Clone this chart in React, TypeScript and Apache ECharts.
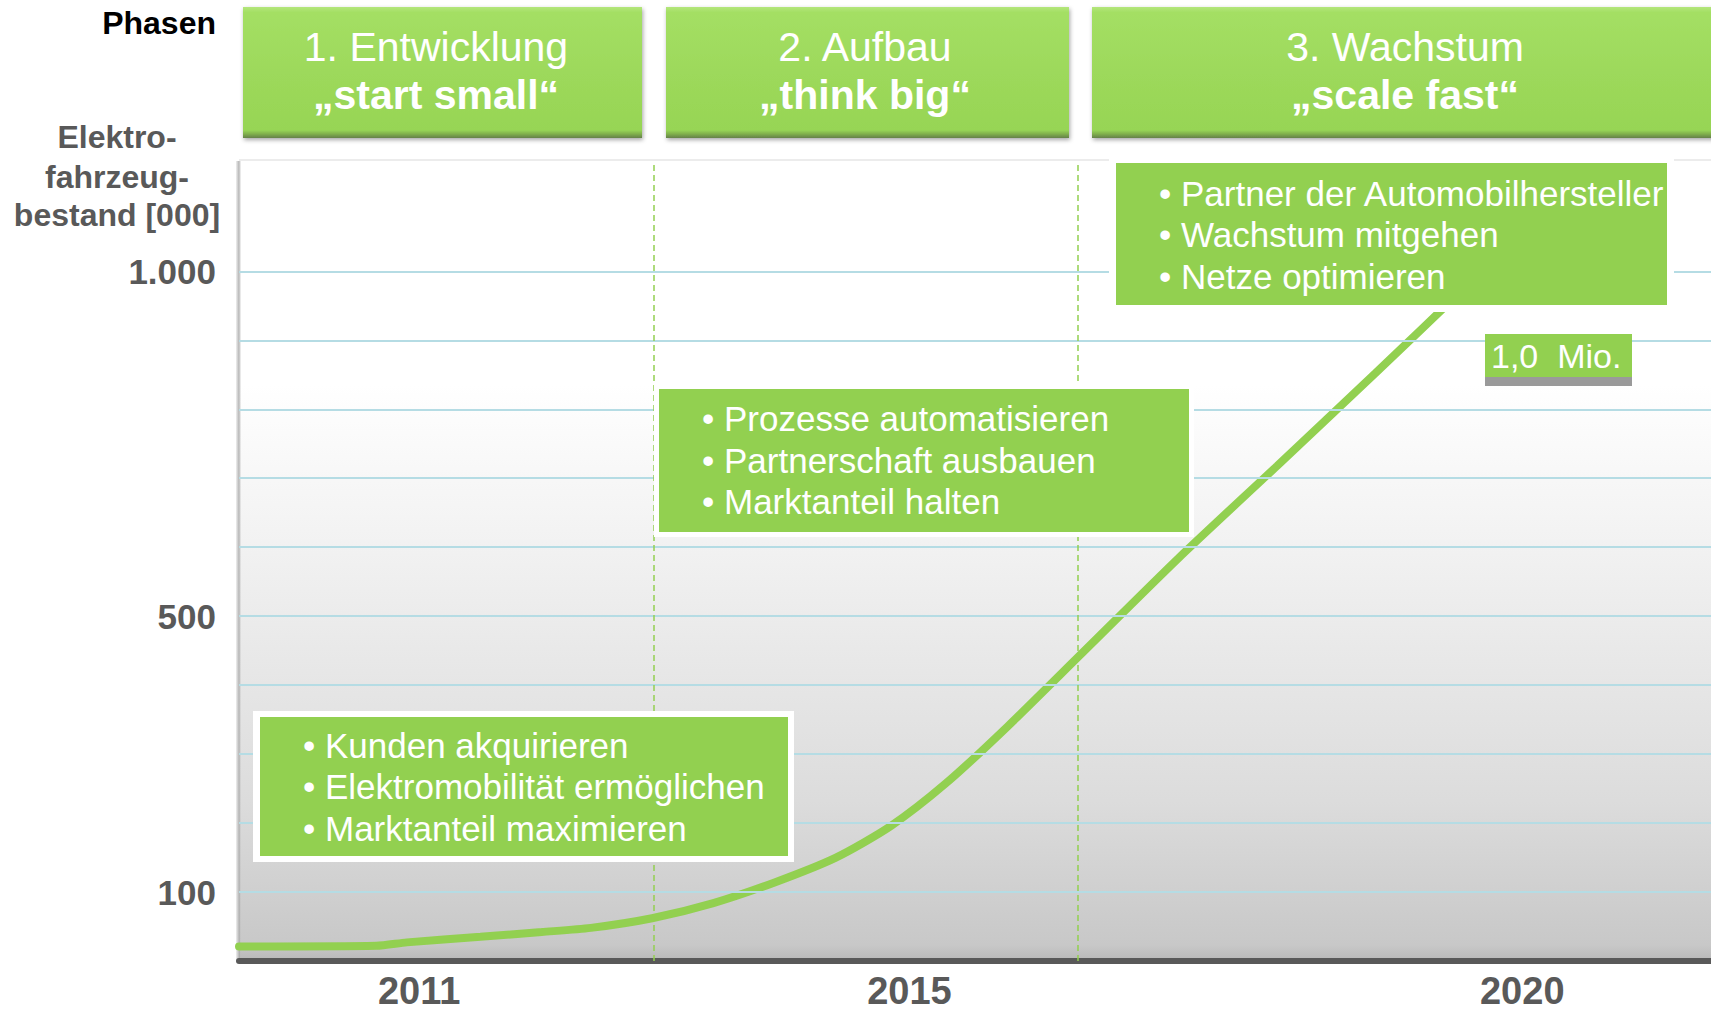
import React, { useEffect, useRef } from "react";
import * as echarts from "echarts";

// ---- data ----
const years = [2009.53, 2010.65, 2010.9, 2011.5, 2012.0, 2012.4, 2012.9, 2013.4, 2013.9, 2014.4, 2014.85, 2015.3, 2015.8, 2016.4, 2017.2, 2018.0, 2018.8, 2019.6];
const stock = [21, 22, 27, 35, 42, 48, 62, 84, 114, 150, 196, 258, 340, 445, 585, 718, 852, 988];
const xTickLabels = [2011, 2015, 2020];
const yTickLabels = [100, 500, 1000];
const gridValues = [100, 200, 300, 400, 500, 600, 700, 800, 900, 1000];
const phaseBoundaries = [2012.91, 2016.37];
const phaseNames = ["1. Entwicklung", "2. Aufbau", "3. Wachstum"];
const phaseMottos = ["„start small“", "„think big“", "„scale fast“"];
const phaseBullets = [
  ["Kunden akquirieren", "Elektromobilität ermöglichen", "Marktanteil maximieren"],
  ["Prozesse automatisieren", "Partnerschaft ausbauen", "Marktanteil halten"],
  ["Partner der Automobilhersteller", "Wachstum mitgehen", "Netze optimieren"],
];
const targetLabel = "1,0  Mio.";
const yAxisTitle = ["Elektro-", "fahrzeug-", "bestand [000]"];
const phaseHeader = "Phasen";

// ---- layout ----
const FONT = "'Liberation Sans', Arial, Helvetica, sans-serif";
const GRID = { left: 239, top: 161, width: 1472, height: 800 };
const headerBoxes = [
  { x: 243, w: 399, cx: 436 },
  { x: 666, w: 403, cx: 865 },
  { x: 1092, w: 626, cx: 1405 },
];
const bulletBoxes = [
  { ox: 253, oy: 711, ow: 541, oh: 151, ix: 260, iy: 717, iw: 528, ih: 139, tx: 303, ly: [745, 786, 828] },
  { ox: 654, oy: 385, ow: 540, oh: 152, ix: 659, iy: 389, iw: 530, ih: 143, tx: 702, ly: [418, 460, 501] },
  { ox: 1109, oy: 156, ow: 565, oh: 156, ix: 1116, iy: 163, iw: 551, ih: 142, tx: 1159, ly: [193, 234, 276] },
];

const fmtDe = (v: number) => String(v).replace(/\B(?=(\d{3})+(?!\d))/g, ".");

export default function App() {
  const ref = useRef<HTMLDivElement>(null);
  useEffect(() => {
    document.body.style.margin = "0";
    const chart = echarts.init(ref.current!, null, { renderer: "svg" });

    const graphics: any[] = [];
    // plot background
    graphics.push({
      type: "rect",
      z: -10,
      silent: true,
      shape: { x: GRID.left, y: GRID.top, width: GRID.width, height: GRID.height },
      style: {
        fill: new echarts.graphic.LinearGradient(0, 0, 0, 1, [
          { offset: 0, color: "#ffffff" },
          { offset: 0.28, color: "#ffffff" },
          { offset: 0.55, color: "#ededed" },
          { offset: 0.8, color: "#dcdcdc" },
          { offset: 0.98, color: "#c8c8c8" },
          { offset: 1, color: "#b8b8b8" },
        ]),
      },
    });
    graphics.push({
      type: "rect",
      z: -9,
      silent: true,
      shape: { x: GRID.left - 3, y: GRID.top, width: 5, height: GRID.height },
      style: {
        fill: new echarts.graphic.LinearGradient(0, 0, 1, 0, [
          { offset: 0, color: "rgba(150,150,150,0.15)" },
          { offset: 0.6, color: "rgba(150,150,150,0.7)" },
          { offset: 1, color: "rgba(200,200,200,0.2)" },
        ]),
      },
    });
    graphics.push({
      type: "line",
      z: -9,
      silent: true,
      shape: { x1: GRID.left, y1: GRID.top - 1, x2: GRID.left + GRID.width, y2: GRID.top - 1 },
      style: { stroke: "#ececec", lineWidth: 2 },
    });

    // "Phasen"
    graphics.push({
      type: "text",
      z: 20,
      style: { text: phaseHeader, x: 216, y: 23, align: "right", verticalAlign: "middle", font: `bold 32px ${FONT}`, fill: "#000000" },
    });
    // y axis title
    const titleY = [137, 177, 215];
    yAxisTitle.forEach((t, i) => {
      graphics.push({
        type: "text",
        z: 20,
        style: { text: t, x: 117, y: titleY[i], align: "center", verticalAlign: "middle", font: `bold 32px ${FONT}`, fill: "#595959" },
      });
    });

    // phase header boxes
    headerBoxes.forEach((b, i) => {
      graphics.push({
        type: "rect",
        z: 20,
        silent: true,
        shape: { x: b.x, y: 7, width: b.w, height: 131 },
        style: {
          fill: new echarts.graphic.LinearGradient(0, 0, 0, 1, [
            { offset: 0, color: "#b4e67c" },
            { offset: 0.04, color: "#a4df64" },
            { offset: 0.5, color: "#9dd95b" },
            { offset: 0.94, color: "#97d555" },
            { offset: 0.97, color: "#7fae4c" },
            { offset: 1, color: "#64804a" },
          ]),
          shadowBlur: 4,
          shadowColor: "rgba(0,0,0,0.35)",
          shadowOffsetX: 1,
          shadowOffsetY: 2,
        },
      });
      graphics.push({
        type: "text",
        z: 21,
        style: { text: phaseNames[i], x: b.cx, y: 47, align: "center", verticalAlign: "middle", font: `41px ${FONT}`, fill: "#ffffff" },
      });
      graphics.push({
        type: "text",
        z: 21,
        style: { text: phaseMottos[i], x: b.cx, y: 95, align: "center", verticalAlign: "middle", font: `bold 41px ${FONT}`, fill: "#ffffff" },
      });
    });

    // bullet boxes
    bulletBoxes.forEach((b, i) => {
      graphics.push({
        type: "rect",
        z: 20,
        silent: true,
        shape: { x: b.ox, y: b.oy, width: b.ow, height: b.oh },
        style: { fill: "#ffffff" },
      });
      graphics.push({
        type: "rect",
        z: 21,
        silent: true,
        shape: { x: b.ix, y: b.iy, width: b.iw, height: b.ih },
        style: { fill: "#92d050" },
      });
      phaseBullets[i].forEach((t, j) => {
        graphics.push({
          type: "text",
          z: 22,
          style: { text: "• " + t, x: b.tx, y: b.ly[j], align: "left", verticalAlign: "middle", font: `35px ${FONT}`, fill: "#ffffff" },
        });
      });
    });

    // 1,0 Mio. label
    graphics.push({
      type: "rect",
      z: 20,
      silent: true,
      shape: { x: 1485, y: 377, width: 147, height: 9 },
      style: { fill: "#9a9a9a" },
    });
    graphics.push({
      type: "rect",
      z: 21,
      silent: true,
      shape: { x: 1485, y: 334, width: 147, height: 43 },
      style: { fill: "#92d050" },
    });
    graphics.push({
      type: "text",
      z: 22,
      style: { text: targetLabel, x: 1491, y: 356, align: "left", verticalAlign: "middle", font: `34px ${FONT}`, fill: "#ffffff" },
    });

    const option: any = {
      animation: false,
      backgroundColor: "#ffffff",
      grid: { left: GRID.left, top: GRID.top, width: GRID.width, height: GRID.height, containLabel: false },
      xAxis: {
        type: "value",
        min: 2009.53,
        max: 2021.54,
        axisLine: { show: true, lineStyle: { color: "#595959", width: 6 } },
        axisTick: { show: false },
        splitLine: { show: false },
        axisLabel: {
          customValues: xTickLabels,
          formatter: (v: number) => String(v),
          fontFamily: FONT,
          fontSize: 38,
          fontWeight: "bold",
          color: "#595959",
          margin: 11,
          lineHeight: 38,
        },
      },
      yAxis: {
        type: "value",
        min: 0,
        max: 1160,
        axisLine: { show: false },
        axisTick: { show: false },
        splitLine: { show: false },
        axisLabel: {
          customValues: yTickLabels,
          formatter: (v: number) => fmtDe(v),
          fontFamily: FONT,
          fontSize: 35,
          fontWeight: "bold",
          color: "#595959",
          margin: 23,
        },
      },
      graphic: { elements: graphics },
      series: [
        {
          type: "line",
          name: "grid",
          data: [],
          z: 1,
          silent: true,
          markLine: {
            silent: true,
            symbol: ["none", "none"],
            label: { show: false },
            lineStyle: { color: "#b5dce4", width: 2, type: "solid" },
            data: [
              ...gridValues.map((v) => ({ yAxis: v })),
              ...phaseBoundaries.map((v) => ({
                xAxis: v,
                lineStyle: { color: "#92d050", width: 1.5, type: [6, 4] },
              })),
            ],
          },
        },
        {
          type: "line",
          name: "Elektrofahrzeugbestand",
          data: years.map((y, i) => [y, stock[i]]),
          z: 3,
          smooth: 0.25,
          showSymbol: false,
          lineStyle: { color: "#92d050", width: 8, cap: "round" },
          itemStyle: { color: "#92d050" },
        },
      ],
    };
    chart.setOption(option);
    return () => chart.dispose();
  }, []);
  return <div ref={ref} style={{ width: 1711, height: 1014 }} />;
}
